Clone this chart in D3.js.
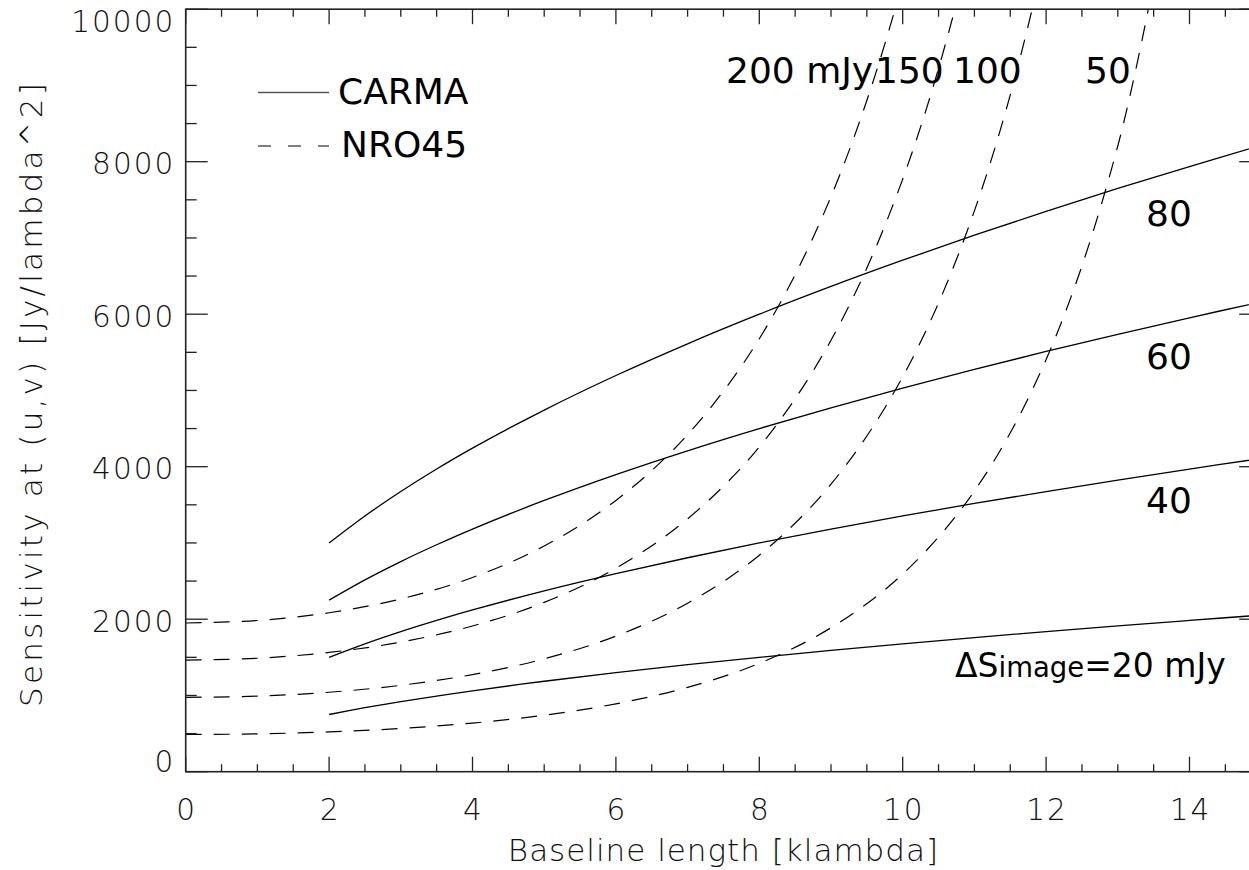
<!DOCTYPE html>
<html>
<head>
<meta charset="utf-8">
<script src="https://cdn.jsdelivr.net/npm/d3@7"></script>
<style>
  html, body { margin: 0; padding: 0; background: #fff; overflow: hidden; }
  svg { display: block; }
  .tick-label { font-family: "DejaVu Sans", sans-serif; font-weight: 200; font-size: 29.5px; fill: #111; letter-spacing: 2px; }
  .axis-title { font-family: "DejaVu Sans", sans-serif; font-weight: 200; font-size: 31px; fill: #111; }
  .plot-label { font-family: "DejaVu Sans", sans-serif; font-size: 36px; fill: #000; }
</style>
</head>
<body>
<svg id="chart" width="1249" height="870"></svg>
<script>
// Baseline length samples [klambda]
const carmaX = [2, 2.5, 3, 3.5, 4, 5, 6, 7, 8, 9, 10, 11, 12, 13, 14, 15];
const nroX   = [0, 1, 2, 3, 4, 5, 6, 7, 8, 9, 10, 11, 12, 13, 14];

// CARMA sensitivity curves [Jy/lambda^2], one per image noise level
const carma20 = [750, 839, 919, 992, 1061, 1186, 1299, 1403, 1500, 1591, 1677, 1759, 1837, 1912, 1984, 2054];
const carma40 = [1500, 1677, 1837, 1984, 2121, 2372, 2598, 2806, 3000, 3182, 3354, 3518, 3674, 3824, 3969, 4108];
const carma60 = [2250, 2516, 2756, 2976, 3182, 3557, 3897, 4209, 4500, 4773, 5031, 5277, 5511, 5736, 5953, 6162];
const carma80 = [3000, 3354, 3674, 3969, 4243, 4743, 5196, 5612, 6000, 6364, 6708, 7036, 7348, 7649, 7937, 8216];

// NRO45 sensitivity curves [Jy/lambda^2]
const nro50  = [488, 496, 522, 567, 638, 741, 890, 1106, 1421, 1888, 2592, 3681, 5405, 8206, 12883];
const nro100 = [975, 991, 1042, 1133, 1274, 1480, 1779, 2210, 2839, 3771, 5179, 7355, 10799, 16395, 25740];
const nro150 = [1463, 1488, 1564, 1700, 1911, 2221, 2669, 3316, 4260, 5659, 7772, 11036, 16204, 24601, 38623];
const nro200 = [1950, 1983, 2085, 2266, 2547, 2960, 3557, 4420, 5678, 7542, 10359, 14710, 21598, 32790, 51480];

// Flux levels labelling each curve [mJy]
const carmaLevels = [20, 40, 60, 80];
const nroLevels   = [50, 100, 150, 200];

// Axis ticks
const xMajorTicks = [0, 2, 4, 6, 8, 10, 12, 14];
const yMajorTicks = [0, 2000, 4000, 6000, 8000, 10000];
const xTitle = "Baseline length [klambda]";
const yTitle = "Sensitivity at (u,v) [Jy/lambda^2]";
const legendNames = ["CARMA", "NRO45"];

const svg = d3.select("#chart");

// Plot frame (right edge lies just past the visible window)
const frame = { left: 185.7, right: 1261.2, top: 9.2, bottom: 771.7 };
const x = d3.scaleLinear().domain([0, 15]).range([frame.left, frame.right]);
const y = d3.scaleLinear().domain([0, 10000]).range([frame.bottom, frame.top]);

svg.append("defs").append("clipPath").attr("id", "plot-clip")
  .append("rect").attr("x", frame.left).attr("y", frame.top)
  .attr("width", frame.right - frame.left).attr("height", frame.bottom - frame.top);

const lineFor = (xs) => d3.line()
  .x((d, i) => x(xs[i]))
  .y(d => y(d))
  .curve(d3.curveCatmullRom.alpha(0.5));

const curves = svg.append("g").attr("clip-path", "url(#plot-clip)");

[carma20, carma40, carma60, carma80].forEach(vals => {
  curves.append("path")
    .attr("d", lineFor(carmaX)(vals))
    .attr("fill", "none").attr("stroke", "#000").attr("stroke-width", 1.3);
});

[nro50, nro100, nro150, nro200].forEach(vals => {
  curves.append("path")
    .attr("d", lineFor(nroX)(vals))
    .attr("fill", "none").attr("stroke", "#000").attr("stroke-width", 1.2)
    .attr("stroke-dasharray", "16 12");
});

// Axes: ticks on all four sides, labels on left and bottom
const xMinor = d3.range(0, 15.01, 0.5);
const yMinor = d3.range(0, 10001, 500);

const axisG = svg.append("g").attr("stroke", "#222").attr("fill", "none");
axisG.append("rect").attr("x", frame.left).attr("y", frame.top)
  .attr("width", frame.right - frame.left).attr("height", frame.bottom - frame.top)
  .attr("stroke-width", 1.6);
const tickG = svg.append("g").attr("stroke", "#222").attr("stroke-width", 1.3);
xMinor.forEach(v => {
  const len = xMajorTicks.includes(v) ? 15 : 7.5;
  tickG.append("line").attr("x1", x(v)).attr("x2", x(v)).attr("y1", frame.bottom).attr("y2", frame.bottom - len);
  tickG.append("line").attr("x1", x(v)).attr("x2", x(v)).attr("y1", frame.top).attr("y2", frame.top + len);
});
yMinor.forEach(v => {
  const len = yMajorTicks.includes(v) ? 22 : 11;
  tickG.append("line").attr("x1", frame.left).attr("x2", frame.left + len).attr("y1", y(v)).attr("y2", y(v));
  tickG.append("line").attr("x1", frame.right).attr("x2", frame.right - len).attr("y1", y(v)).attr("y2", y(v));
});

// Tick labels
svg.append("g").selectAll("text").data(xMajorTicks).join("text")
  .attr("class", "tick-label")
  .attr("x", d => x(d) + 1)
  .attr("y", 819.5)
  .attr("text-anchor", "middle")
  .text(d => d);

svg.append("g").selectAll("text").data(yMajorTicks).join("text")
  .attr("class", "tick-label")
  .attr("x", frame.left - 10.5)
  .attr("y", d => Math.min(Math.max(y(d) + 2, frame.top + 12), frame.bottom - 10))
  .attr("dy", "0.36em")
  .attr("text-anchor", "end")
  .text(d => d);

// Axis titles
svg.append("text").attr("class", "axis-title")
  .attr("x", (frame.left + frame.right) / 2).attr("y", 861)
  .attr("text-anchor", "middle")
  .style("letter-spacing", "1px")
  .text(xTitle);

svg.append("text").attr("class", "axis-title")
  .attr("transform", `translate(42, ${(frame.top + frame.bottom) / 2 + 3}) rotate(-90)`)
  .attr("text-anchor", "middle")
  .style("letter-spacing", "3.2px")
  .text(yTitle);

// Legend
const legend = svg.append("g");
legend.append("line").attr("x1", 258).attr("x2", 329).attr("y1", 92.5).attr("y2", 92.5)
  .attr("stroke", "#555").attr("stroke-width", 1.3);
legend.append("line").attr("x1", 258).attr("x2", 329).attr("y1", 146).attr("y2", 146)
  .attr("stroke", "#000").attr("stroke-width", 1.2).attr("stroke-dasharray", "13 17");
legend.append("text").attr("class", "plot-label").attr("x", 338).attr("y", 103.5).text(legendNames[0]);
legend.append("text").attr("class", "plot-label").attr("x", 341).attr("y", 157).text(legendNames[1]);

// NRO45 level labels along the top
const nroLabelPos = { 200: 726, 150: 875, 100: 953, 50: 1085 };
svg.append("g").selectAll("text").data(nroLevels.slice().reverse()).join("text")
  .attr("class", "plot-label")
  .attr("x", d => nroLabelPos[d])
  .attr("y", 83)
  .text(d => d === 200 ? `${d} mJy` : `${d}`);

// CARMA level labels at the right
const carmaLabelY = { 40: 513, 60: 369, 80: 226 };
svg.append("g").selectAll("text").data(carmaLevels.filter(d => d !== 20)).join("text")
  .attr("class", "plot-label")
  .attr("x", 1146)
  .attr("y", d => carmaLabelY[d])
  .text(d => d);

const dsLabel = svg.append("text").attr("class", "plot-label")
  .attr("x", 955).attr("y", 677).style("font-size", "33px");
dsLabel.append("tspan").text("\u0394S");
dsLabel.append("tspan").style("font-size", "27.5px").text("image");
dsLabel.append("tspan").text(`=${carmaLevels[0]} mJy`);
</script>
</body>
</html>
